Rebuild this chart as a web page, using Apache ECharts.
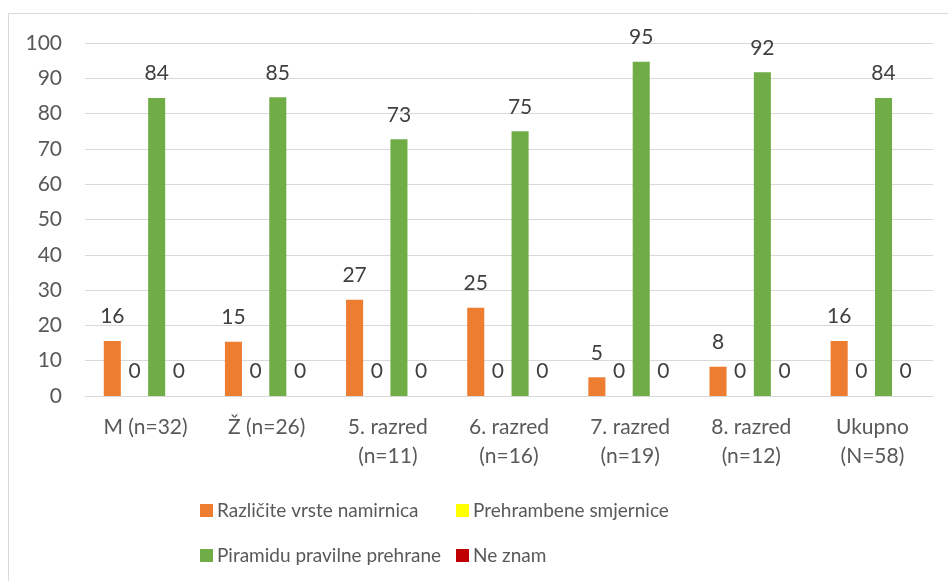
<!DOCTYPE html>
<html>
<head>
<meta charset="utf-8">
<script src="https://cdn.jsdelivr.net/npm/echarts@6/dist/echarts.min.js"></script>
<style>
html,body{margin:0;padding:0;background:#fff;}
#c{width:948px;height:581px;}
</style>
</head>
<body>
<div id="c"></div>
<script>
const categories = ['M (n=32)', 'Ž (n=26)', '5. razred\n(n=11)', '6. razred\n(n=16)', '7. razred\n(n=19)', '8. razred\n(n=12)', 'Ukupno\n(N=58)'];
const seriesNames = ['Različite vrste namirnica', 'Prehrambene smjernice', 'Piramidu pravilne prehrane', 'Ne znam'];
const razliciteVrste = [15.6, 15.4, 27.3, 25.0, 5.3, 8.3, 15.6];
const smjernice = [0, 0, 0, 0, 0, 0, 0];
const piramida = [84.4, 84.6, 72.7, 75.0, 94.7, 91.7, 84.4];
const neZnam = [0, 0, 0, 0, 0, 0, 0];
const yTicks = [0, 10, 20, 30, 40, 50, 60, 70, 80, 90, 100];
const colors = ['#ED7D31', '#FFFF00', '#70AD47', '#C00000'];

const FONT = 'Lato';
const chart = echarts.init(document.getElementById('c'), null, {renderer: 'canvas'});
const seriesData = [razliciteVrste, smjernice, piramida, neZnam];

function mkLegend(i, left, top) {
  return {
    data: [seriesNames[i]], left: left, top: top, padding: 0,
    itemWidth: 13, itemHeight: 13, itemGap: 0, icon: 'rect',
    textStyle: {fontFamily: FONT, fontSize: 19, color: '#595959', padding: [0,0,0,-1]},
    selectedMode: false
  };
}

chart.setOption({
  animation: false,
  color: colors,
  textStyle: {fontFamily: FONT},
  graphic: [{
    type: 'rect', shape: {x: 8.5, y: 13.5, width: 1200, height: 1200},
    style: {fill: 'none', stroke: '#d9d9d9', lineWidth: 1}, silent: true
  }],
  grid: {left: 85, right: 15, top: 43, bottom: 185, containLabel: false},
  legend: [
    mkLegend(0, 200, 501),
    mkLegend(1, 456, 501),
    mkLegend(2, 200, 546),
    mkLegend(3, 456, 546)
  ],
  xAxis: {
    type: 'category', data: categories,
    axisLine: {show: true, lineStyle: {color: '#d9d9d9', width: 1}},
    axisTick: {show: false},
    axisLabel: {fontFamily: FONT, fontSize: 21, color: '#595959', margin: 17, lineHeight: 29, interval: 0}
  },
  yAxis: {
    type: 'value', min: yTicks[0], max: yTicks[yTicks.length-1], interval: 10,
    axisLine: {show: false}, axisTick: {show: false},
    splitLine: {lineStyle: {color: '#d9d9d9', width: 1}},
    axisLabel: {fontFamily: FONT, fontSize: 21, color: '#595959', margin: 23}
  },
  series: seriesData.map((d, i) => ({
    name: seriesNames[i], type: 'bar', data: d,
    barGap: '30%', barCategoryGap: '31%',
    itemStyle: {color: colors[i]},
    label: {
      show: true, position: 'top', distance: 14,
      fontFamily: FONT, fontSize: 21, color: '#404040',
      formatter: p => String(Math.round(p.value))
    }
  }))
});
</script>
</body>
</html>
